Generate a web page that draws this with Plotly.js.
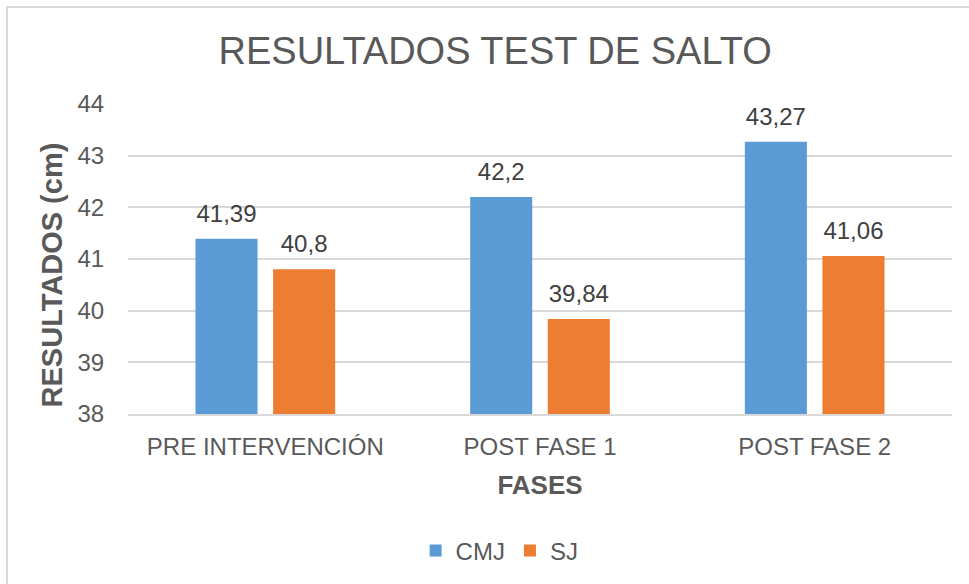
<!DOCTYPE html>
<html>
<head>
<meta charset="utf-8">
<script src="https://cdn.plot.ly/plotly-3.0.1.min.js"></script>
<style>
html,body{margin:0;padding:0;background:#fff;}
#wrap{position:relative;width:969px;height:584px;overflow:hidden;}
#chart{position:absolute;left:0;top:0;width:969px;height:584px;}
#frame{position:absolute;left:6px;top:6px;width:1000px;height:700px;border:2px solid #d9d9d9;pointer-events:none;}
</style>
</head>
<body>
<div id="wrap"><div id="chart"></div><div id="frame"></div></div>
<script>
const categories = ["PRE INTERVENCIÓN", "POST FASE 1", "POST FASE 2"];
const cmj = [41.39, 42.2, 43.27];
const sj = [40.8, 39.84, 41.06];
const seriesNames = ["CMJ", "SJ"];
const colors = ["#5B9BD5", "#ED7D31"];
const yTitle = "RESULTADOS (cm)";

const fmt = v => String(v).replace(".", ",");
const font = "Liberation Sans, Arial, sans-serif";

const barTraces = [cmj, sj].map((vals, i) => ({
  type: "bar",
  name: seriesNames[i],
  x: categories,
  y: vals.map(v => v - 38),
  base: 38,
  offsetgroup: String(i),
  marker: {color: colors[i]},
  hoverinfo: "skip"
}));

const labelTraces = [cmj, sj].map((vals, i) => ({
  type: "scatter",
  mode: "markers+text",
  name: seriesNames[i] + " labels",
  showlegend: false,
  x: categories,
  y: vals,
  offsetgroup: String(i),
  marker: {size: 16, opacity: 0, color: colors[i]},
  text: vals.map(fmt),
  textposition: "top center",
  cliponaxis: false,
  textfont: {family: font, size: 24, color: "#404040"},
  hoverinfo: "skip"
}));

const layout = {
  width: 969, height: 584,
  margin: {l: 128, r: 17, t: 104, b: 169},
  paper_bgcolor: "#fff", plot_bgcolor: "#fff",
  barmode: "group",
  scattermode: "group",
  bargap: 0.435,
  bargroupgap: 0.2,
  scattergap: 0.435,
  title: {text: "RESULTADOS TEST DE SALTO", font: {family: font, size: 38, color: "#595959"}, x: 0.511, xanchor: "center", y: 0.914, yanchor: "middle"},
  xaxis: {
    title: {text: "<b>FASES</b>", font: {family: font, size: 26, color: "#595959"}, standoff: 17},
    tickfont: {family: font, size: 24, color: "#595959"},
    showline: true, linecolor: "#d9d9d9", linewidth: 2,
    ticks: "", ticklabelstandoff: 10, fixedrange: true
  },
  yaxis: {
    range: [38, 44], dtick: 1,
    tickfont: {family: font, size: 24, color: "#595959"},
    gridcolor: "#d9d9d9", gridwidth: 2,
    zeroline: false, showline: false,
    ticks: "outside", ticklen: 18, tickcolor: "rgba(0,0,0,0)",
    fixedrange: true
  },
  annotations: [{
    text: "<b>" + yTitle + "</b>", textangle: -90,
    xref: "paper", yref: "paper", x: -0.0923, y: 0.45,
    xanchor: "center", yanchor: "middle", showarrow: false,
    font: {family: font, size: 29, color: "#595959"}
  }],
  showlegend: true,
  legend: {
    orientation: "h", x: 0.451, xanchor: "center", y: -0.437, yanchor: "middle",
    font: {family: font, size: 24, color: "#595959"},
    itemwidth: 30, traceorder: "normal"
  }
};

Plotly.newPlot("chart", barTraces.concat(labelTraces), layout, {displayModeBar: false, staticPlot: true});
</script>
</body>
</html>
